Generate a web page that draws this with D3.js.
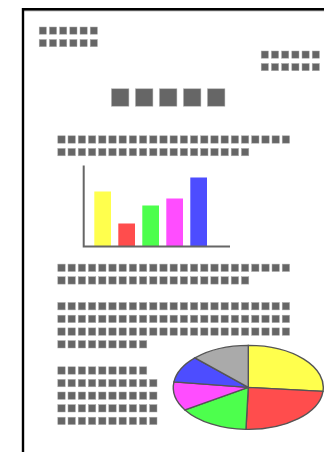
<!DOCTYPE html>
<html><head><meta charset="utf-8">
<script src="https://cdn.jsdelivr.net/npm/d3@7"></script>
<style>html,body{margin:0;padding:0;background:#fff;overflow:hidden}</style>
</head><body>
<svg id="c" width="324" height="452"></svg>
<script>
// ---- data ----
const headerLeftRows = [6, 6];
const headerRightRows = [6, 6];
const titleSquares = [5];
const para1Rows = [23, 19];
const para2Rows = [23, 19];
const para3Rows = [23, 23, 23, 9];
const para4Rows = [9, 10, 10, 10, 10];

const barCategories = ["A", "B", "C", "D", "E"];
const barValues = [55, 23, 41, 48, 69];
const barColors = ["#ffff4d", "#ff4d4d", "#4dff4d", "#ff4dff", "#4d4dff"];

const pieLabels = ["yellow", "red", "green", "magenta", "blue", "gray"];
const pieValues = [26.5, 24, 15.5, 11.1, 10.3, 12.6];
const pieColors = ["#ffff4d", "#ff4d4d", "#4dff4d", "#ff4dff", "#4d4dff", "#aaaaaa"];

// ---- drawing ----
const svg = d3.select("#c");

// page border (cropped document)
svg.append("line").attr("x1", 24).attr("x2", 324).attr("y1", 10.8).attr("y2", 10.8)
  .attr("stroke", "#999").attr("stroke-width", 1);
svg.append("path").attr("d", "M23,452V9.2H324")
  .attr("fill", "none").attr("stroke", "#000").attr("stroke-width", 2.4);

// placeholder "text" squares
function squares(rows, x0, y0, size, pitchX, pitchY) {
  const cells = [];
  rows.forEach((n, r) => d3.range(n).forEach(i => cells.push({r, i})));
  svg.append("g").selectAll("rect").data(cells).join("rect")
    .attr("x", d => x0 + d.i * pitchX)
    .attr("y", d => y0 + d.r * pitchY)
    .attr("width", size).attr("height", size)
    .attr("fill", "#666").attr("stroke", "#aaa").attr("stroke-width", 0.5);
}
squares(headerLeftRows, 39.2, 27, 7.2, 10.2, 12.5);
squares(headerRightRows, 261.2, 51, 7.2, 10.2, 12.5);
squares(titleSquares, 111.5, 88.8, 17.4, 24, 0);
squares(para1Rows, 57.8, 135.8, 7.4, 10.2, 12.6);
squares(para2Rows, 57.8, 264.1, 7.4, 10.2, 12.6);
squares(para3Rows, 57.8, 302.5, 7.4, 10.2, 12.7);
squares(para4Rows, 57.8, 366.8, 7.4, 10.2, 12.6);

// bar chart
const x = d3.scaleBand().domain(barCategories).range([94.3, 207]).paddingInner(0.304).paddingOuter(0);
const y = d3.scaleLinear().domain([0, 80]).range([246.5, 166.5]);
svg.append("g").selectAll("rect").data(barValues).join("rect")
  .attr("x", (d, i) => x(barCategories[i]))
  .attr("y", d => y(d))
  .attr("width", x.bandwidth())
  .attr("height", d => y(0) - y(d))
  .attr("fill", (d, i) => barColors[i]);
svg.append("path")
  .attr("d", `M${83.7},${y.range()[1] - 1}V${y(0)}H${230}`)
  .attr("fill", "none").attr("stroke", "#666").attr("stroke-width", 2);

// pie chart (ellipse)
const rx = 75, ry = 42;
const pie = d3.pie().sort(null).value(d => d);
const arc = d3.arc().innerRadius(0).outerRadius(rx);
const pg = svg.append("g").attr("transform", `translate(248.3,387.4) scale(1,${ry / rx})`);
pg.selectAll("path").data(pie(pieValues)).join("path")
  .attr("d", arc)
  .attr("fill", (d, i) => pieColors[i])
  .attr("stroke", "#555").attr("stroke-width", 1.4)
  .attr("vector-effect", "non-scaling-stroke");
</script>
</body></html>
